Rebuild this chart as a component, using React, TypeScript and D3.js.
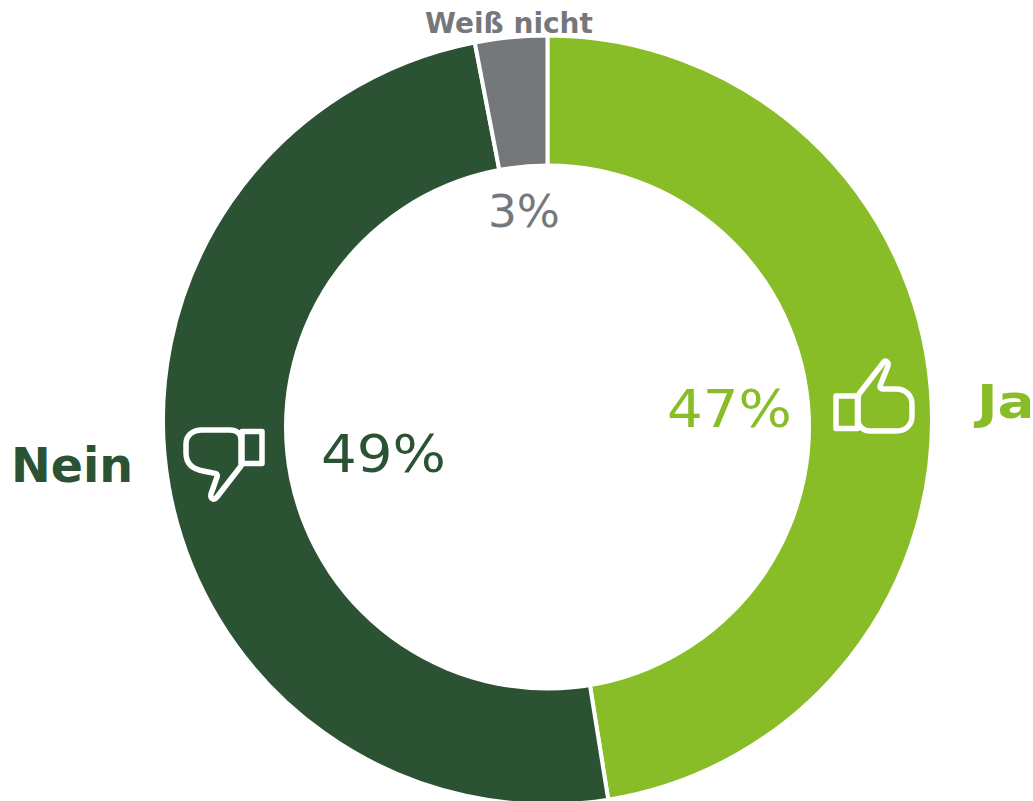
import React from "react";
import * as d3 from "d3";

const categories = ["Ja", "Nein", "Weiß nicht"];
const shares = [47, 49, 3];
const sliceColors = ["#88bd27", "#2c5234", "#75787b"];

const WIDTH = 1033;
const HEIGHT = 801;
const CX = 547.5;
const CY = 420;
const OUTER = 384.5;
const HOLE_CY = 427;
const HOLE_R = 263.5;

const FONT = "'DejaVu Sans', Verdana, sans-serif";

function ThumbUp() {
  return (
    <g transform="translate(820,350)" fill="none" stroke="#fff" strokeWidth={5.5} strokeLinejoin="round" strokeLinecap="round">
      <rect x={16} y={46} width={21.5} height={32.5} />
      <path d="M39,44 L63,13 C65,9 69,12 68,16 L60,36 C60,39 62,39 65,39 L76,39 C86,39 92,46 92,54 L92,66 C92,75 86,81 76,81 L50,81 C43,81 38,76 38,70 L38,48 Z" />
    </g>
  );
}

function ThumbDown() {
  return (
    <g transform="translate(170,415)" fill="none" stroke="#fff" strokeWidth={5.5} strokeLinejoin="round" strokeLinecap="round">
      <rect x={72} y={16.5} width={20} height={32} />
      <path d="M71,51 L47,82 C44,86 40,84 41,79 L47,62 C48,59 46,58 43,58 L33,56 C22,54 16,48 16,38 L16,29 C16,20 23,15 32,15 L60,15 C67,15 71,19 71,25 Z" />
    </g>
  );
}

export default function App() {
  const pie = d3.pie<number>().sort(null).value((d) => d);
  const arc = d3.arc<d3.PieArcDatum<number>>().innerRadius(0).outerRadius(OUTER);
  const arcs = pie(shares);

  return (
    <svg
      width={WIDTH}
      height={HEIGHT}
      viewBox={`0 0 ${WIDTH} ${HEIGHT}`}
      style={{ position: "absolute", left: 0, top: 0, fontFamily: FONT }}
    >
      <defs>
        <clipPath id="page-edge">
          <rect x={0} y={0} width={1030} height={HEIGHT} />
        </clipPath>
      </defs>
      <g transform={`translate(${CX},${CY})`}>
        {arcs.map((a, i) => (
          <path key={categories[i]} d={arc(a) ?? ""} fill={sliceColors[i]} stroke="#fff" strokeWidth={4} />
        ))}
      </g>
      {/* The hole sits slightly below the centre of the outer ring */}
      <circle cx={CX} cy={HOLE_CY} r={HOLE_R} fill="#fff" />
      <ThumbUp />
      <ThumbDown />
      <text x={729.5} y={427} textAnchor="middle" fontSize={52} textLength={125} lengthAdjust="spacingAndGlyphs" fill={sliceColors[0]}>{shares[0]}%</text>
      <text x={383.5} y={472} textAnchor="middle" fontSize={52} textLength={125} lengthAdjust="spacingAndGlyphs" fill={sliceColors[1]}>{shares[1]}%</text>
      <text x={524} y={227} textAnchor="middle" fontSize={44} textLength={72} lengthAdjust="spacingAndGlyphs" fill={sliceColors[2]}>{shares[2]}%</text>
      <g clipPath="url(#page-edge)">
        <text x={977} y={418} fontSize={47} fontWeight="bold" textLength={58} lengthAdjust="spacingAndGlyphs" fill={sliceColors[0]}>{categories[0]}</text>
      </g>
      <text x={72} y={482} textAnchor="middle" fontSize={47.5} fontWeight="bold" fill={sliceColors[1]}>{categories[1]}</text>
      <text x={509} y={33} textAnchor="middle" fontSize={28} fontWeight="bold" fill={sliceColors[2]}>{categories[2]}</text>
    </svg>
  );
}
